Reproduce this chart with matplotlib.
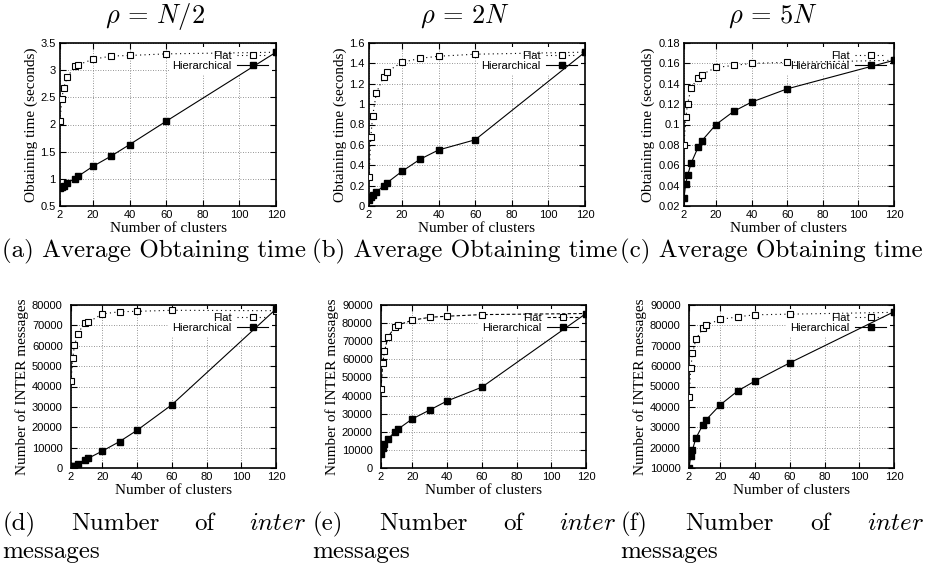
import matplotlib
matplotlib.use("Agg")
import matplotlib.pyplot as plt

plt.rcParams["mathtext.fontset"] = "cm"

W, H = 928, 566

# ---------- data ----------
clusters = [2, 3, 4, 6, 10, 12, 20, 30, 40, 60, 120]

time_flat_half = [2.07, 2.47, 2.68, 2.87, 3.07, 3.10, 3.20, 3.26, 3.27, 3.30, 3.33]
time_hier_half = [0.83, 0.85, 0.87, 0.93, 1.00, 1.05, 1.23, 1.42, 1.63, 2.06, 3.33]
time_flat_2n = [0.28, 0.68, 0.88, 1.11, 1.27, 1.32, 1.41, 1.45, 1.47, 1.49, 1.51]
time_hier_2n = [0.056, 0.09, 0.11, 0.135, 0.20, 0.23, 0.34, 0.46, 0.55, 0.65, 1.51]
time_flat_5n = [0.080, 0.107, 0.120, 0.136, 0.146, 0.149, 0.156, 0.158, 0.160, 0.161, 0.163]
time_hier_5n = [0.028, 0.042, 0.050, 0.062, 0.078, 0.084, 0.100, 0.113, 0.122, 0.135, 0.163]

msg_flat_half = [42500, 54000, 60300, 66000, 71400, 71600, 75600, 76700, 76900, 77400, 77200]
msg_hier_half = [600, 900, 1200, 2100, 4100, 4800, 8300, 13000, 18500, 31000, 78000]
msg_flat_2n = [43800, 57800, 64400, 72300, 77800, 79000, 81600, 83200, 83800, 84700, 85300]
msg_hier_2n = [7700, 11000, 13000, 16100, 19900, 21600, 27100, 32000, 37000, 44600, 85300]
msg_flat_5n = [44800, 58900, 66300, 73200, 78500, 80200, 82900, 84200, 85200, 85500, 86400]
msg_hier_5n = [10000, 15700, 19000, 24700, 31300, 33800, 41000, 47800, 52700, 61600, 86700]

x_ticks = [2, 20, 40, 60, 80, 100, 120]

titles = [r"$\rho$ = $N/2$", r"$\rho$ = $2N$", r"$\rho$ = $5N$"]
captions_top = ["(a) Average Obtaining time", "(b) Average Obtaining time",
                "(c) Average Obtaining time"]
captions_bottom = ["(d)", "(e)", "(f)"]

panels = [
    # (flat, hier, ylim, yticks, ylabel, flat dash)
    (time_flat_half, time_hier_half, (0.5, 3.5), [0.5, 1, 1.5, 2, 2.5, 3, 3.5], "Obtaining time (seconds)", (0, (1, 3))),
    (time_flat_2n, time_hier_2n, (0, 1.6), [0, 0.2, 0.4, 0.6, 0.8, 1, 1.2, 1.4, 1.6], "Obtaining time (seconds)", (0, (1, 3))),
    (time_flat_5n, time_hier_5n, (0.02, 0.18), [0.02, 0.04, 0.06, 0.08, 0.1, 0.12, 0.14, 0.16, 0.18], "Obtaining time (seconds)", (0, (1, 3))),
    (msg_flat_half, msg_hier_half, (0, 80000), list(range(0, 80001, 10000)), "Number of INTER messages", (0, (1, 3))),
    (msg_flat_2n, msg_hier_2n, (0, 90000), list(range(0, 90001, 10000)), "Number of INTER messages", (0, (3, 2))),
    (msg_flat_5n, msg_hier_5n, (10000, 90000), list(range(10000, 90001, 10000)), "Number of INTER messages", (0, (1, 3))),
]

# axes boxes in pixels: left, right, top, bottom
boxes = [
    (60, 276, 43, 206), (369, 585, 43, 206), (684, 894, 43, 206),
    (71, 276, 305, 468), (381, 586, 305, 468), (689, 894, 305, 468),
]

fig = plt.figure(figsize=(W / 100, H / 100), dpi=100)

for i, (flat, hier, ylim, yticks, ylabel, dash) in enumerate(panels):
    l, r, t, b = boxes[i]
    ax = fig.add_axes([l / W, (H - b) / H, (r - l) / W, (b - t) / H])
    ax.set_axisbelow(True)
    ax.plot(clusters, flat, color="black", lw=0.8, ls=dash, marker="s",
            ms=4, mfc="white", mec="black", mew=0.8, label="Flat", zorder=3)
    ax.plot(clusters, hier, color="black", lw=0.8, ls="-", marker="s",
            ms=4, mfc="black", mec="black", label="Hierarchical", zorder=3)
    ax.set_xlim(2, 120)
    ax.set_ylim(*ylim)
    ax.set_xticks(x_ticks)
    ax.set_yticks(yticks)
    ax.set_yticklabels(["%g" % v for v in yticks])
    ax.grid(True, color="0.45", lw=0.6, ls=(0, (1, 2)))
    ax.tick_params(direction="in", top=True, right=True, length=4, width=0.8,
                   labelsize=8, pad=3)
    if i >= 3:
        ax.tick_params(axis="y", pad=6)
    for lab in ax.get_xticklabels() + ax.get_yticklabels():
        lab.set_fontfamily("Liberation Sans")
    for s in ax.spines.values():
        s.set_linewidth(1.2)
    ax.set_xlabel("Number of clusters", fontfamily="Liberation Serif",
                  fontsize=11, labelpad=1)
    ax.set_ylabel(ylabel, fontfamily="Liberation Serif", fontsize=11,
                  labelpad=2)

    leg = ax.legend(loc="upper right", prop={"family": "Liberation Sans", "size": 8},
                    frameon=True, facecolor="white", edgecolor="none",
                    framealpha=1, fancybox=False, borderpad=0.3,
                    borderaxespad=0.4, handlelength=2.8, handletextpad=0.5,
                    labelspacing=0.05, markerfirst=False, numpoints=1)
    for col in leg._legend_handle_box.get_children():
        col.align = "right"
    leg.set_zorder(1)

# titles and captions, one column per panel
renderer = fig.canvas.get_renderer()
origins = [0, 310, 618]
for k, ox in enumerate(origins):
    fig.text((ox + 155) / W, 1 - 16 / H, titles[k], ha="center", va="center",
             fontfamily="cmr10", fontsize=19)
    fig.text((ox + 2) / W, 1 - 251 / H, captions_top[k], ha="left",
             va="center", fontfamily="cmr10", fontsize=18)

    # justified first line of the bottom caption
    y1 = 1 - 524 / H
    words = [captions_bottom[k], "Number", "of", r"$\mathit{inter}$"]
    txts = [fig.text(0, y1, w, ha="left", va="center", fontfamily="cmr10",
                     fontsize=18) for w in words]
    widths = [t.get_window_extent(renderer).width for t in txts]
    x0, x1 = ox + 3, ox + 306
    gap = (x1 - x0 - sum(widths)) / (len(words) - 1)
    x = x0
    for t, w in zip(txts, widths):
        t.set_x(x / W)
        x += w + gap
    fig.text((ox + 2) / W, 1 - 552 / H, "messages", ha="left", va="center",
             fontfamily="cmr10", fontsize=18)

fig.savefig("out.png", dpi=100)
